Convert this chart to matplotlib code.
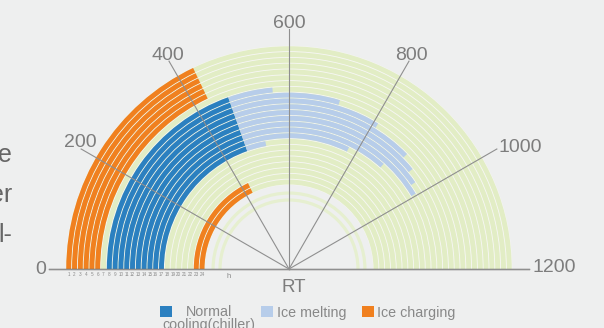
import numpy as np
import matplotlib.pyplot as plt
from matplotlib.patches import Rectangle

plt.rcParams['font.family'] = ['Liberation Sans', 'DejaVu Sans']

# hours 1..24, values in RT
hours = [1, 2, 3, 4, 5, 6, 7, 8, 9, 10, 11, 12,
         13, 14, 15, 16, 17, 18, 19, 20, 21, 22, 23, 24]
ice_charging = [430, 430, 430, 430, 430, 430, 0, 0, 0, 0, 0, 0,
                0, 0, 0, 0, 0, 0, 0, 0, 0, 0, 430, 430]
normal_cooling = [0, 0, 0, 0, 0, 0, 0, 470, 470, 470, 470, 470,
                  470, 470, 470, 470, 470, 0, 0, 0, 0, 0, 0, 0]
ice_melting = [0, 0, 0, 0, 0, 0, 0, 95, 242, 340, 435, 470,
               500, 525, 410, 305, 60, 0, 0, 0, 0, 0, 0, 0]
rt_max = 1200
rt_ticks = [0, 200, 400, 600, 800, 1000, 1200]

c_orange = '#f0801f'
c_blue = '#2b80c0'
c_light = '#b7cdea'
c_green = '#e2edc5'
c_text = '#7d7d7d'


def to_theta(v):
    return np.asarray(v, dtype=float) * np.pi / rt_max


fig = plt.figure(figsize=(6.04, 3.28), dpi=100)
fig.patch.set_facecolor('#eeefef')

# square box: polar keeps the half disc centred in it
ax = fig.add_axes([49 / 604, -61 / 328, 480 / 604, 480 / 328], projection='polar')
ax.set_theta_zero_location('W')
ax.set_theta_direction(-1)
ax.set_thetamin(0)
ax.set_thetamax(180)
rlim = 41.4
ax.set_rlim(0, rlim)
ax.set_facecolor('none')
ax.grid(False)
ax.set_xticks([])
ax.set_yticks([])
for s in ax.spines.values():
    s.set_visible(False)

r = 39 - np.array(hours)
h = 0.85

# white underlay so the gaps between rings look white
ax.barh(26.5, np.pi, height=24, left=0, color='#f7f7f5', linewidth=0)
# green background rings
ax.barh(r, to_theta([rt_max] * len(hours)), height=h, left=0, color=c_green, linewidth=0)
# two thin inner rings
ax.barh([13.1, 11.9], [np.pi, np.pi], height=0.55, left=0, color='#e6efd0', linewidth=0)

ax.barh(r, to_theta(ice_charging), height=h, left=0, color=c_orange, linewidth=0)
ax.barh(r, to_theta(normal_cooling), height=h, left=0, color=c_blue, linewidth=0)
ax.barh(r, to_theta(ice_melting), height=h, left=to_theta(normal_cooling),
        color=c_light, linewidth=0)

# radial lines + labels
for v in rt_ticks:
    th = to_theta(v)
    lw = 1.0 if v in (0, rt_max) else 0.8
    ax.plot([th, th], [0, rlim], color='#8f8f8f', lw=lw, zorder=5, clip_on=False)

label_fmt = {
    0: ((-3, 0), 'right', 'center'),
    200: ((-1, 2), 'center', 'baseline'),
    400: ((-1, 1), 'center', 'baseline'),
    600: ((0, 1), 'center', 'baseline'),
    800: ((2, 1), 'center', 'baseline'),
    1000: ((2, -3), 'left', 'baseline'),
    1200: ((3, 2), 'left', 'center'),
}
for v in rt_ticks:
    off, ha, va = label_fmt[v]
    ax.annotate(str(v), xy=(to_theta(v), rlim), xytext=(off[0] * 0.72, off[1] * 0.72),
                textcoords='offset points', ha=ha, va=va, fontsize=14, color=c_text,
                annotation_clip=False)

# hour labels under the baseline
for hr, rr in zip(hours, r):
    ax.annotate(str(hr), xy=(0, rr), xytext=(0, -2.5), textcoords='offset points',
                ha='center', va='top', fontsize=3.3, color='#8a8a8a',
                annotation_clip=False)
ax.annotate('h', xy=(0, 10.5), xytext=(0, -3), textcoords='offset points',
            ha='center', va='top', fontsize=5.5, color='#8a8a8a', annotation_clip=False)

fig.text(294 / 604, 1 - 287 / 328, 'RT', ha='center', va='center',
         fontsize=13.5, color=c_text)

# legend
legend_items = [('Normal\ncooling(chiller)', c_blue, 160, 209),
                ('Ice melting', c_light, 261, 277),
                ('Ice charging', c_orange, 362, 377)]
for label, col, sx, tx in legend_items:
    fig.add_artist(Rectangle((sx / 604, 1 - 317 / 328), 12 / 604, 11 / 328,
                             transform=fig.transFigure, color=col, linewidth=0))
    if '\n' in label:
        fig.text(tx / 604, 1 - 328.7 / 328, label, ha='center', va='baseline',
                 multialignment='center', linespacing=0.85, fontsize=10.3, color='#888888')
    else:
        fig.text(tx / 604, 1 - 316.7 / 328, label, ha='left', va='baseline',
                 fontsize=10.3, color='#888888')

# cropped page text at the left edge
for txt, y in [('e', 162), ('er', 202), ('l-', 242)]:
    fig.text(12 / 604, 1 - y / 328, txt, ha='right', va='baseline',
             fontsize=18, color='#666666')

fig.savefig('out.png', dpi=100, facecolor=fig.get_facecolor())
